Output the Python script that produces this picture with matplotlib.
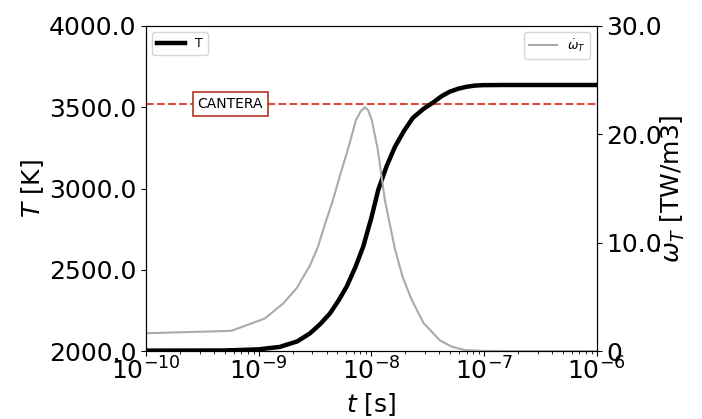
import numpy as np
import matplotlib.pyplot as plt
from matplotlib.ticker import FixedLocator, FixedFormatter

# temperature history
t_T = [1e-10, 5e-10, 1e-9, 1.54e-9, 2.2e-9, 2.85e-9, 3.5e-9, 4.29e-9, 5.1e-9,
       6.03e-9, 7.2e-9, 8.46e-9, 1e-8, 1.15e-8, 1.37e-8, 1.62e-8, 1.95e-8,
       2.33e-8, 2.9e-8, 3.51e-8, 4.2e-8, 4.97e-8, 5.9e-8, 6.99e-8, 8.2e-8,
       9.7e-8, 1.5e-7, 1e-6]
T = [2003, 2004, 2011, 2026, 2060, 2109, 2165, 2232, 2310,
     2396, 2515, 2642, 2820, 2991, 3140, 3257, 3355,
     3434, 3490, 3528, 3568, 3596, 3614, 3626, 3633,
     3636, 3637, 3637]

# heat release rate
t_w = [1e-10, 5.7e-10, 1.13e-9, 1.65e-9, 2.17e-9, 2.85e-9, 3.35e-9, 3.9e-9,
       4.55e-9, 5.3e-9, 6.19e-9, 7.29e-9, 8.0e-9, 8.76e-9, 9.4e-9, 1.01e-8,
       1.14e-8, 1.32e-8, 1.62e-8, 1.9e-8, 2.29e-8, 2.9e-8, 4.05e-8, 5.2e-8,
       6.75e-8, 1e-7, 1e-6]
w_T = [1.65, 1.87, 3.0, 4.4, 5.8, 7.9, 9.6, 11.8,
       13.9, 16.3, 18.6, 21.3, 22.1, 22.5, 22.2, 21.3,
       18.6, 13.9, 9.4, 6.8, 4.7, 2.6, 1.0, 0.4,
       0.1, 0.02, 0.0]

T_cantera = 3520

left_ticks = [2000, 2500, 3000, 3500, 4000]
right_ticks = [0, 10, 20, 30]
right_labels = ['0', '10.0', '20.0', '30.0']

fs = 18

fig = plt.figure(figsize=(7.02, 4.19), dpi=100)
ax = fig.add_axes([0.208, 0.162, 0.642, 0.776])
ax2 = ax.twinx()

ax.plot(t_T, T, color='black', lw=3.2, label='T', zorder=3)
ax2.plot(t_w, w_T, color='#aaaaaa', lw=1.5, label=r'$\dot{\omega}_T$')
ax.axhline(T_cantera, color='#dd4b36', ls='--', lw=1.5, zorder=2)
ax.text(5.6e-10, T_cantera, 'CANTERA', fontsize=10, ha='center', va='center',
        bbox=dict(boxstyle='square,pad=0.35', facecolor='white', edgecolor='#b5321f', lw=1.2),
        zorder=4)

ax.set_xscale('log')
ax.set_xlim(1e-10, 1e-6)
ax.set_ylim(2000, 4000)
ax2.set_ylim(0, 30)
ax.set_xticks([1e-10, 1e-9, 1e-8, 1e-7, 1e-6])

ax.yaxis.set_major_locator(FixedLocator(left_ticks))
ax.yaxis.set_major_formatter(FixedFormatter(['%.1f' % v for v in left_ticks]))
ax2.yaxis.set_major_locator(FixedLocator(right_ticks))
ax2.yaxis.set_major_formatter(FixedFormatter(right_labels))

ax.tick_params(labelsize=fs)
ax2.tick_params(labelsize=fs)
ax.tick_params(axis='x', pad=1)

ax.set_xlabel(r'$t$ [s]', fontsize=fs, labelpad=5)
ax.set_ylabel(r'$T$ [K]', fontsize=fs, labelpad=2)
ax2.set_ylabel(r'$\dot{\omega}_T$ [TW/m3]', fontsize=fs, labelpad=-4)

ax.legend(loc='upper left', fontsize=9, handlelength=2.2)
ax2.legend(loc='upper right', fontsize=9, handlelength=2.2)

fig.savefig('out.png', dpi=100)
